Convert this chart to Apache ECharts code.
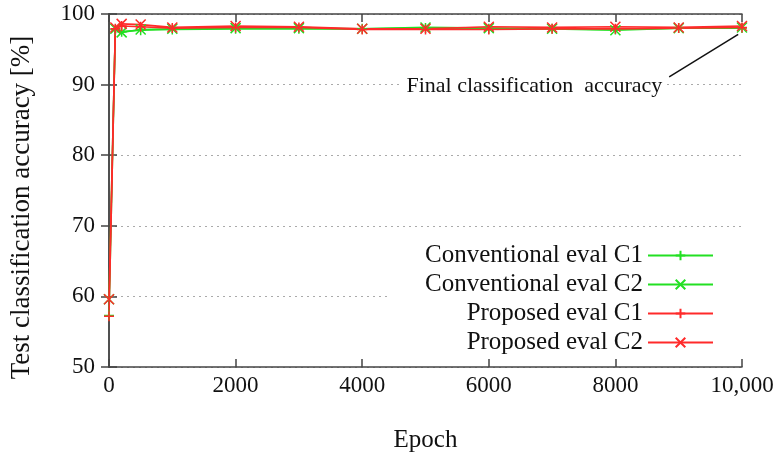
<!DOCTYPE html>
<html>
<head>
<meta charset="utf-8">
<script src="https://cdn.jsdelivr.net/npm/echarts@6/dist/echarts.min.js"></script>
<style>
  html, body { margin: 0; padding: 0; background: #fff; }
  #chart { width: 782px; height: 460px; }
</style>
</head>
<body>
<div id="chart"></div>
<script>
// epochs where accuracy was measured
var epochs = [0, 100, 200, 500, 1000, 2000, 3000, 4000, 5000, 6000, 7000, 8000, 9000, 10000]
// test accuracy [%]
var convC1 = [57.3, 97.8, 97.5, 97.7, 97.8, 97.9, 97.9, 97.9, 98.0, 97.9, 97.9, 97.8, 98.0, 98.0]
var convC2 = [59.6, 97.9, 97.4, 97.8, 97.9, 98.0, 98.0, 97.9, 98.1, 98.0, 97.9, 97.7, 98.0, 98.1]
var propC1 = [57.2, 97.9, 98.3, 98.2, 98.0, 98.1, 98.1, 97.8, 97.8, 97.8, 97.9, 97.9, 98.0, 98.1]
var propC2 = [59.6, 98.1, 98.6, 98.5, 98.1, 98.3, 98.2, 97.9, 97.9, 98.2, 98.1, 98.2, 98.1, 98.3]
var seriesNames = ['Conventional eval C1', 'Conventional eval C2', 'Proposed eval C1', 'Proposed eval C2']
var xTicks = [0, 2000, 4000, 6000, 8000, 10000]
var yTicks = [50, 60, 70, 80, 90, 100]

var FONT = '"Liberation Serif", "Times New Roman", serif'
var GREEN = '#22e022'
var RED = '#ff2a2a'
var PLUS = 'path://M0,5L10,5M5,0L5,10'
var CROSS = 'path://M0,0L10,10M10,0L0,10'

function pairs(ys) {
  return epochs.map(function (e, i) { return [e, ys[i]] })
}

function lineSeries(name, ys, color, symbol) {
  return {
    name: name,
    type: 'line',
    data: pairs(ys),
    symbol: symbol,
    symbolSize: 10,
    showAllSymbol: true,
    lineStyle: { color: color, width: 1.6 },
    itemStyle: { color: color, borderColor: color, borderWidth: 1.5 },
    emphasis: { disabled: true },
    animation: false
  }
}

var axisLine = { show: true, lineStyle: { color: '#444', width: 1.5 } }
var tick = { show: true, inside: true, length: 8, lineStyle: { color: '#444', width: 1.5 } }

var series = [
  lineSeries(seriesNames[0], convC1, GREEN, PLUS),
  lineSeries(seriesNames[1], convC2, GREEN, CROSS),
  lineSeries(seriesNames[2], propC1, RED, PLUS),
  lineSeries(seriesNames[3], propC2, RED, CROSS)
]

// annotation: arrow + text, placed in data space
series[3].markLine = {
  silent: true,
  symbol: ['none', 'arrow'],
  symbolSize: [0, 12],
  label: { show: false },
  lineStyle: { color: '#111', width: 1.5, type: 'solid' },
  data: [[{ coord: [8850, 91.1] }, { coord: [9940, 97.1] }]]
}
series[3].markPoint = {
  silent: true,
  symbol: 'rect',
  symbolSize: 0,
  label: {
    show: true,
    position: 'inside',
    formatter: 'Final classification  accuracy',
    fontFamily: FONT,
    fontSize: 22,
    color: '#111',
    backgroundColor: '#fff',
    padding: [2, 4]
  },
  data: [{ coord: [6720, 89.7] }]
}

var chart = echarts.init(document.getElementById('chart'))
chart.setOption({
  backgroundColor: '#fff',
  animation: false,
  grid: { left: 108, right: 40, top: 14, bottom: 93 },
  legend: {
    data: seriesNames,
    orient: 'vertical',
    align: 'right',
    right: 41,
    top: 240,
    padding: [3, 27, 3, 34],
    backgroundColor: '#fff',
    itemWidth: 65,
    itemHeight: 12,
    itemGap: 4,
    textStyle: { fontFamily: FONT, fontSize: 25, color: '#111', lineHeight: 25 },
    selectedMode: false
  },
  xAxis: [{
    type: 'value',
    min: xTicks[0],
    max: xTicks[xTicks.length - 1],
    interval: 2000,
    name: 'Epoch',
    nameLocation: 'middle',
    nameGap: 61,
    nameTextStyle: { fontFamily: FONT, fontSize: 25, color: '#111' },
    axisLine: axisLine,
    axisTick: tick,
    axisLabel: {
      margin: 7,
      fontFamily: FONT,
      fontSize: 23,
      color: '#111',
      formatter: function (v) { return v === 10000 ? '10,000' : String(v) }
    },
    splitLine: { show: false }
  }, {
    type: 'value',
    position: 'top',
    min: xTicks[0],
    max: xTicks[xTicks.length - 1],
    interval: 2000,
    axisLine: axisLine,
    axisTick: tick,
    axisLabel: { show: false },
    splitLine: { show: false }
  }],
  yAxis: [{
    type: 'value',
    min: yTicks[0],
    max: yTicks[yTicks.length - 1],
    interval: 10,
    name: 'Test classification accuracy [%]',
    nameLocation: 'middle',
    nameGap: 74,
    nameTextStyle: { fontFamily: FONT, fontSize: 27, color: '#111', padding: [0, 34, 0, 0] },
    axisLine: axisLine,
    axisTick: tick,
    axisLabel: { margin: 14, fontFamily: FONT, fontSize: 23, color: '#111' },
    splitLine: { show: true, lineStyle: { color: '#aaa', type: [2, 4], width: 1 } }
  }, {
    type: 'value',
    position: 'right',
    min: yTicks[0],
    max: yTicks[yTicks.length - 1],
    interval: 10,
    axisLine: axisLine,
    axisTick: tick,
    axisLabel: { show: false },
    splitLine: { show: false }
  }],
  series: series
})
</script>
</body>
</html>
